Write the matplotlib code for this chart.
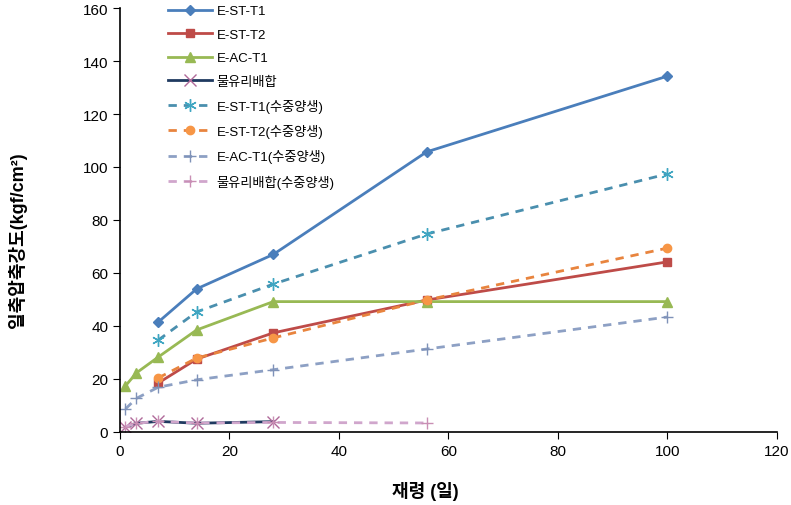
import numpy as np
import matplotlib.pyplot as plt

plt.rcParams['font.family'] = ['Liberation Sans', 'Noto Sans CJK KR', 'DejaVu Sans']

# 재령 (일)
days_st = [7, 14, 28, 56, 100]
days_ac = [1, 3, 7, 14, 28, 56, 100]
days_wg = [1, 3, 7, 14, 28]
days_wg_w = [1, 3, 7, 14, 28, 56]

# 일축압축강도 (kgf/cm2)
e_st_t1 = [41.5, 54.0, 67.0, 105.7, 134.3]
e_st_t2 = [18.5, 27.5, 37.4, 49.8, 64.2]
e_ac_t1 = [17.4, 22.3, 28.3, 38.5, 49.2, 49.2, 49.2]
wg_mix = [1.8, 3.3, 4.0, 3.3, 3.9]
e_st_t1_w = [34.7, 45.3, 55.8, 74.7, 97.4]
e_st_t2_w = [20.4, 27.9, 35.5, 49.8, 69.4]
e_ac_t1_w = [8.7, 12.7, 16.9, 19.7, 23.5, 31.3, 43.4]
wg_mix_w = [2.0, 3.3, 4.0, 3.4, 3.6, 3.4]

fig = plt.figure(figsize=(7.91, 5.06), dpi=100)
ax = fig.add_axes([0.1517, 0.1443, 0.8306, 0.8379])

ax.plot(days_st, e_st_t1, color='#4A7EBB', lw=2, marker='D', ms=5, label='E-ST-T1')
ax.plot(days_st, e_st_t2, color='#BE4B48', lw=2, marker='s', ms=6, label='E-ST-T2')
ax.plot(days_ac, e_ac_t1, color='#98B954', lw=2, marker='^', ms=7, label='E-AC-T1')
ax.plot(days_wg, wg_mix, color='#1F3A60', lw=2, marker='x', ms=9, mec='#B06A9A', mew=1,
        label='물유리배합')
ax.plot(days_st, e_st_t1_w, color='#4A8FAE', lw=2, ls=(0, (3, 2.5)), marker=(6, 2, 0), ms=9,
        mec='#3FA6C2', mew=1, label='E-ST-T1(수중양생)')
ax.plot(days_st, e_st_t2_w, color='#E8843E', lw=2, ls=(0, (3, 2.5)), marker='o', ms=6,
        mfc='#F79646', mec='#F79646', label='E-ST-T2(수중양생)')
ax.plot(days_ac, e_ac_t1_w, color='#8DA0C4', lw=2, ls=(0, (3, 2.5)), marker='+', ms=9,
        mec='#7F92B8', mew=1, label='E-AC-T1(수중양생)')
ax.plot(days_wg_w, wg_mix_w, color='#D0A6CC', lw=2, ls=(0, (3, 2.5)), marker='+', ms=9,
        mec='#C98FB4', mew=1, label='물유리배합(수중양생)')

ax.set_xlim(0, 120)
ax.set_ylim(0, 160)
ax.set_xticks(np.arange(0, 121, 20))
ax.set_yticks(np.arange(0, 161, 20))
ax.tick_params(direction='out', length=5, labelsize=11, colors='black')
for s in ['top', 'right']:
    ax.spines[s].set_visible(False)
ax.spines['left'].set_linewidth(1.2)
ax.spines['bottom'].set_linewidth(1.2)

ax.set_xlabel('재령 (일)', fontsize=13, fontweight='bold')
ax.xaxis.set_label_coords(0.464, -0.115)
ax.set_ylabel('일축압축강도(kgf/cm²)', fontsize=13, fontweight='bold')
ax.yaxis.set_label_coords(-0.142, 0.455)

leg = ax.legend(loc='upper left', bbox_to_anchor=(0.055, 1.035), frameon=False, fontsize=9.5,
                labelspacing=0.85, handlelength=3.3, handletextpad=0.4)

fig.savefig('out.png', dpi=100)
